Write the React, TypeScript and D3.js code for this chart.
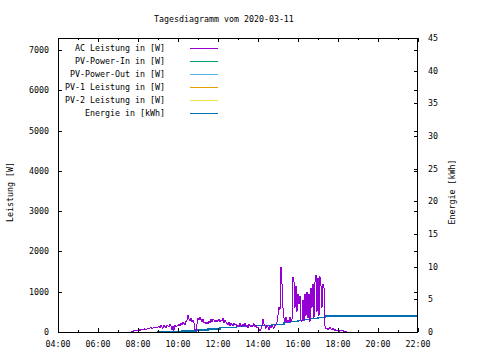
import React from "react";
import * as d3 from "d3";

const title = "Tagesdiagramm vom 2020-03-11";
const yLabel = "Leistung [W]";
const y2Label = "Energie [kWh]";

const xTickLabels = ["04:00", "06:00", "08:00", "10:00", "12:00", "14:00", "16:00", "18:00", "20:00", "22:00"];
const xMinorLabels = ["05:00", "07:00", "09:00", "11:00", "13:00", "15:00", "17:00", "19:00", "21:00"];
const powerTicks = [0, 1000, 2000, 3000, 4000, 5000, 6000, 7000];
const energyTicks = [0, 5, 10, 15, 20, 25, 30, 35, 40, 45];

// AC Leistung [W], one reading every 3 minutes (:00, :03 ... :57), one list per hour
const ac07 = [null, null, null, null, null, null, null, null, null, null, null, null, null, 10, 20, 15, 30, 25, 40, 35];
const ac08 = [45, 60, 40, 55, 70, 50, 65, 80, 60, 75, 90, 70, 95, 110, 85, 100, 120, 95, 130, 110];
const ac09 = [120, 150, 100, 170, 130, 90, 160, 140, 110, 180, 150, 120, 200, 160, 60, 140, 40, 170, 120, 150];
const ac10 = [160, 200, 140, 230, 180, 250, 210, 170, 260, 300, 420, 330, 280, 350, 260, 300, 220, 60, 30, 200];
const ac11 = [340, 290, 380, 310, 260, 330, 220, 250, 190, 240, 210, 280, 230, 310, 260, 320, 290, 240, 300, 260];
const ac12 = [280, 320, 250, 300, 270, 340, 230, 290, 250, 210, 180, 240, 160, 220, 190, 150, 230, 170, 200, 140];
const ac13 = [180, 130, 210, 160, 120, 190, 150, 230, 140, 170, 110, 200, 150, 120, 180, 140, 210, 130, 160, 100];
const ac14 = [120, 60, 40, 80, 150, 320, 200, 140, 90, 170, 120, 60, 150, 100, 180, 130, 90, 160, 200, 250];
const ac15 = [420, 620, 550, 1620, 1200, 590, 350, 250, 380, 220, 300, 260, 370, 240, 300, 1370, 1250, 600, 1150, 500];
const ac16 = [950, 700, 900, 300, 250, 800, 280, 950, 400, 1000, 350, 950, 250, 1100, 600, 1200, 350, 1250, 1420, 500];
const ac17 = [1350, 400, 1380, 1150, 600, 1200, 1100, 150, 80, 100, 60, 90, 110, 70, 50, 90, 40, 60, 30, 50];
const ac18 = [40, 20, 30, 50, 25, 35, 15, 20, 10, 5, null, null, null, null, null, null, null, null, null, null];

const acHours = [7, 8, 9, 10, 11, 12, 13, 14, 15, 16, 17, 18];
const acByHour = [ac07, ac08, ac09, ac10, ac11, ac12, ac13, ac14, ac15, ac16, ac17, ac18];

// Energie [kWh]
const energyTimes = ["08:56", "09:40", "10:12", "10:54", "11:30", "12:06", "12:56", "13:30", "14:00", "14:42", "15:00", "15:18", "15:36", "16:00", "16:18", "16:36", "17:00", "17:21", "17:30", "22:00"];
const energyValues = [0, 0.05, 0.15, 0.3, 0.45, 0.65, 0.85, 0.95, 1.0, 1.1, 1.2, 1.45, 1.6, 1.75, 1.9, 2.05, 2.25, 2.45, 2.45, 2.45];

const legendNames = ["AC Leistung in [W]", "PV-Power-In in [W]", "PV-Power-Out in [W]", "PV-1 Leistung in [W]", "PV-2 Leistung in [W]", "Energie in [kWh]"];
const legendColors = ["#9400d3", "#009e73", "#56b4e9", "#e69f00", "#f0e442", "#0072b2"];

const W = 480;
const H = 360;
const left = 58;
const right = 418;
const top = 38;
const bottom = 332;
const font = "'DejaVu Sans Mono', 'Liberation Mono', monospace";
const fs = 8.3;

const toHours = (s: string) => {
  const [h, m] = s.split(":").map(Number);
  return h + m / 60;
};

export default function App() {
  const x = d3.scaleLinear().domain([4, 22]).range([left, right]);
  const yP = d3.scaleLinear().domain([0, 7300]).range([bottom, top]);
  const yE = d3.scaleLinear().domain([0, 45]).range([bottom, top]);

  const acPoints: [number, number | null][] = [];
  acByHour.forEach((vals, k) => {
    vals.forEach((v, j) => acPoints.push([acHours[k] + (j * 3) / 60, v]));
  });

  const acLine = d3
    .line<[number, number | null]>()
    .defined(d => d[1] != null)
    .x(d => x(d[0]))
    .y(d => yP(d[1] as number));

  const energyLine = d3
    .line<number>()
    .x((_, i) => x(toHours(energyTimes[i])))
    .y(d => yE(d))
    .curve(d3.curveStepAfter);

  const txt = { fontFamily: font, fontSize: fs, fill: "#000" } as const;

  return (
    <svg width={W} height={H} style={{ position: "absolute", left: 0, top: 0, background: "#fff" }}>
      <text x={154} y={22} {...txt}>{title}</text>

      {/* data */}
      <path d={energyLine(energyValues) || ""} fill="none" stroke={legendColors[5]} strokeWidth={1.2} shapeRendering="crispEdges" />
      <path d={acLine(acPoints) || ""} fill="none" stroke={legendColors[0]} strokeWidth={1} shapeRendering="crispEdges" />

      <g shapeRendering="crispEdges" stroke="#000" strokeWidth={1}>
        <rect x={left + 0.5} y={top + 0.5} width={right - left - 1} height={bottom - top} fill="none" />
        {xTickLabels.map(t => {
          const px = Math.round(x(toHours(t))) + 0.5;
          return (
            <g key={t}>
              <line x1={px} x2={px} y1={bottom} y2={bottom - 4} />
              <line x1={px} x2={px} y1={top} y2={top + 4} />
            </g>
          );
        })}
        {xMinorLabels.map(t => {
          const px = Math.round(x(toHours(t))) + 0.5;
          return (
            <g key={t}>
              <line x1={px} x2={px} y1={bottom} y2={bottom - 2} />
              <line x1={px} x2={px} y1={top} y2={top + 2} />
            </g>
          );
        })}
        {powerTicks.map(v => {
          const py = Math.round(yP(v)) + 0.5;
          return (
            <g key={v}>
              <line x1={left} x2={left + 4} y1={py} y2={py} />
              <line x1={right} x2={right - 4} y1={py} y2={py} />
            </g>
          );
        })}
        {energyTicks.map(v => {
          const py = Math.round(yE(v)) + 0.5;
          return <line key={v} x1={right} x2={right - 4} y1={py} y2={py} />;
        })}
      </g>

      {xTickLabels.map(t => (
        <text key={t} x={x(toHours(t))} y={347} textAnchor="middle" {...txt}>{t}</text>
      ))}
      {powerTicks.map(v => (
        <text key={v} x={49} y={yP(v) + 3} textAnchor="end" {...txt}>{v}</text>
      ))}
      {energyTicks.map(v => (
        <text key={v} x={428} y={yE(v) + 3} {...txt}>{v}</text>
      ))}

      <text transform="translate(13,192) rotate(-90)" textAnchor="middle" {...txt}>{yLabel}</text>
      <text transform="translate(455,192) rotate(-90)" textAnchor="middle" {...txt}>{y2Label}</text>

      {legendNames.map((n, i) => {
        const cy = 48 + i * 13;
        return (
          <g key={n}>
            <text x={165} y={cy + 3} textAnchor="end" {...txt}>{n}</text>
            <line x1={190} x2={218} y1={cy + 0.5} y2={cy + 0.5} stroke={legendColors[i]} strokeWidth={1} shapeRendering="crispEdges" />
          </g>
        );
      })}
    </svg>
  );
}
